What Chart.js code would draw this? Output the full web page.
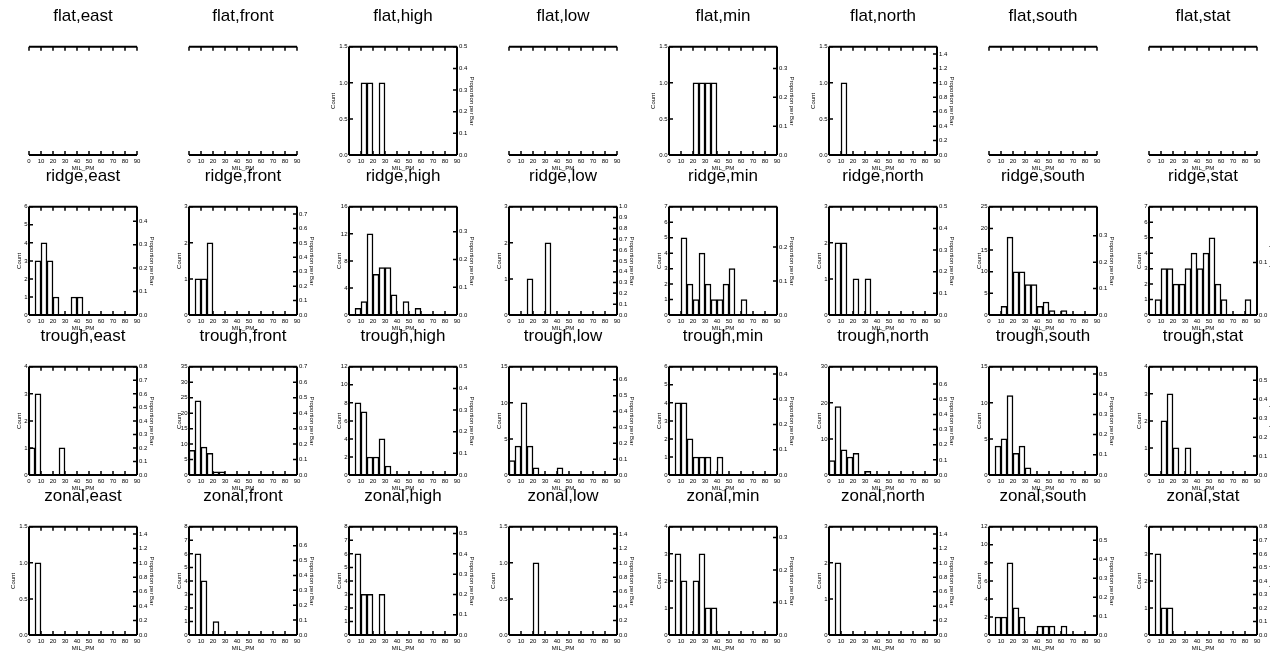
<!DOCTYPE html>
<html>
<head>
<meta charset="utf-8">
<script src="https://cdn.jsdelivr.net/npm/chart.js@4.4.1/dist/chart.umd.min.js"></script>
<style>
body { margin: 0; background: #fff; }
#grid { position: relative; width: 1270px; height: 655px; overflow: hidden; }
#grid canvas { position: absolute; }
</style>
</head>
<body>
<div id="grid"></div>
<script>
// MIL_PM histogram bins, 5 wide from 0 to 90 (bin centres)
const binCenters = [2.5, 7.5, 12.5, 17.5, 22.5, 27.5, 32.5, 37.5, 42.5, 47.5, 52.5, 57.5, 62.5, 67.5, 72.5, 77.5, 82.5, 87.5];

const rowNames = ['flat', 'ridge', 'trough', 'zonal'];
const colNames = ['east', 'front', 'high', 'low', 'min', 'north', 'south', 'stat'];

// counts per bin, one list per panel (null = no data)
const flatCounts = [
    null,
    null,
    [0, 0, 1, 1, 0, 1, 0, 0, 0, 0, 0, 0, 0, 0, 0, 0, 0, 0],
    null,
    [0, 0, 0, 0, 1, 1, 1, 1, 0, 0, 0, 0, 0, 0, 0, 0, 0, 0],
    [0, 0, 1, 0, 0, 0, 0, 0, 0, 0, 0, 0, 0, 0, 0, 0, 0, 0],
    null,
    null
];
const ridgeCounts = [
    [0, 3, 4, 3, 1, 0, 0, 1, 1, 0, 0, 0, 0, 0, 0, 0, 0, 0],
    [0, 1, 1, 2, 0, 0, 0, 0, 0, 0, 0, 0, 0, 0, 0, 0, 0, 0],
    [0, 1, 2, 12, 6, 7, 7, 3, 0, 2, 0, 1, 0, 0, 0, 0, 0, 0],
    [0, 0, 0, 1, 0, 0, 2, 0, 0, 0, 0, 0, 0, 0, 0, 0, 0, 0],
    [0, 0, 5, 2, 1, 4, 2, 1, 1, 2, 3, 0, 1, 0, 0, 0, 0, 0],
    [0, 2, 2, 0, 1, 0, 1, 0, 0, 0, 0, 0, 0, 0, 0, 0, 0, 0],
    [0, 0, 2, 18, 10, 10, 7, 7, 2, 3, 1, 0, 1, 0, 0, 0, 0, 0],
    [0, 1, 3, 3, 2, 2, 3, 4, 3, 4, 5, 2, 1, 0, 0, 0, 1, 0]
];
const troughCounts = [
    [1, 3, 0, 0, 0, 1, 0, 0, 0, 0, 0, 0, 0, 0, 0, 0, 0, 0],
    [8, 24, 9, 7, 1, 1, 0, 0, 0, 0, 0, 0, 0, 0, 0, 0, 0, 0],
    [0, 8, 7, 2, 2, 4, 1, 0, 0, 0, 0, 0, 0, 0, 0, 0, 0, 0],
    [2, 4, 10, 4, 1, 0, 0, 0, 1, 0, 0, 0, 0, 0, 0, 0, 0, 0],
    [0, 4, 4, 2, 1, 1, 1, 0, 1, 0, 0, 0, 0, 0, 0, 0, 0, 0],
    [4, 19, 7, 5, 6, 0, 1, 0, 0, 0, 0, 0, 0, 0, 0, 0, 0, 0],
    [0, 4, 5, 11, 3, 4, 1, 0, 0, 0, 0, 0, 0, 0, 0, 0, 0, 0],
    [0, 0, 2, 3, 1, 0, 1, 0, 0, 0, 0, 0, 0, 0, 0, 0, 0, 0]
];
const zonalCounts = [
    [0, 1, 0, 0, 0, 0, 0, 0, 0, 0, 0, 0, 0, 0, 0, 0, 0, 0],
    [0, 6, 4, 0, 1, 0, 0, 0, 0, 0, 0, 0, 0, 0, 0, 0, 0, 0],
    [0, 6, 3, 3, 0, 3, 0, 0, 0, 0, 0, 0, 0, 0, 0, 0, 0, 0],
    [0, 0, 0, 0, 1, 0, 0, 0, 0, 0, 0, 0, 0, 0, 0, 0, 0, 0],
    [0, 3, 2, 0, 2, 3, 1, 1, 0, 0, 0, 0, 0, 0, 0, 0, 0, 0],
    [0, 2, 0, 0, 0, 0, 0, 0, 0, 0, 0, 0, 0, 0, 0, 0, 0, 0],
    [0, 2, 2, 8, 3, 2, 0, 0, 1, 1, 1, 0, 1, 0, 0, 0, 0, 0],
    [0, 3, 1, 1, 0, 0, 0, 0, 0, 0, 0, 0, 0, 0, 0, 0, 0, 0]
];

// Count axis top and tick step per panel
const flatMax = [null, null, 1.5, null, 1.5, 1.5, null, null];
const flatStep = [null, null, 0.5, null, 0.5, 0.5, null, null];
const ridgeMax = [6, 3, 16, 3, 7, 3, 25, 7];
const ridgeStep = [1, 1, 4, 1, 1, 1, 5, 1];
const troughMax = [4, 35, 12, 15, 6, 30, 15, 4];
const troughStep = [1, 5, 2, 5, 1, 10, 5, 1];
const zonalMax = [1.5, 8, 8, 1.5, 4, 3, 12, 4];
const zonalStep = [0.5, 1, 1, 0.5, 1, 1, 2, 1];

const rowCounts = [flatCounts, ridgeCounts, troughCounts, zonalCounts];
const rowMax = [flatMax, ridgeMax, troughMax, zonalMax];
const rowStep = [flatStep, ridgeStep, troughStep, zonalStep];

Chart.defaults.font.family = "'Liberation Sans', Arial, sans-serif";
Chart.defaults.color = '#000';

const TICK = 4;

// box around the plot with ticks pointing inward
const framePlugin = {
    id: 'frame',
    afterDatasetsDraw(chart, args, opts) {
        const { ctx, chartArea: a, scales } = chart;
        ctx.save();
        ctx.strokeStyle = '#000';
        ctx.lineWidth = 2;
        ctx.beginPath();
        ctx.moveTo(a.left, a.top); ctx.lineTo(a.right, a.top);
        ctx.moveTo(a.left, a.bottom); ctx.lineTo(a.right, a.bottom);
        if (!opts.empty) {
            ctx.moveTo(a.left, a.top); ctx.lineTo(a.left, a.bottom);
            ctx.moveTo(a.right, a.top); ctx.lineTo(a.right, a.bottom);
        }
        ctx.stroke();

        ctx.lineWidth = 1.5;
        ctx.beginPath();
        scales.x.ticks.forEach(t => {
            const px = scales.x.getPixelForValue(t.value);
            ctx.moveTo(px, a.top); ctx.lineTo(px, a.top + TICK);
            ctx.moveTo(px, a.bottom); ctx.lineTo(px, a.bottom - TICK);
        });
        if (!opts.empty) {
            scales.y.ticks.forEach(t => {
                const py = scales.y.getPixelForValue(t.value);
                ctx.moveTo(a.left, py); ctx.lineTo(a.left + TICK, py);
            });
            scales.y2.ticks.forEach(t => {
                const py = scales.y2.getPixelForValue(t.value);
                ctx.moveTo(a.right, py); ctx.lineTo(a.right - TICK, py);
            });
        }
        ctx.stroke();
        ctx.restore();
    }
};

const keepSteps = (step) => (axis) => {
    axis.ticks = axis.ticks.filter(t => Math.abs(t.value / step - Math.round(t.value / step)) < 1e-6);
};

function makePanel(canvas, title, counts, yMax, yStep) {
    const empty = !counts;
    const total = empty ? 1 : counts.reduce((s, v) => s + v, 0);
    const top = empty ? 1 : yMax;
    const step = empty ? 1 : yStep;
    const propMax = top / total;
    const propStep = propMax > 1.2 ? 0.2 : 0.1;
    const fmtCount = (v) => step < 1 ? v.toFixed(1) : String(v);
    const countPad = fmtCount(top).length >= 3 ? 9.4 : 15.4;
    const small = { size: 6 };
    const noGrid = { display: false, drawTicks: false, offset: false };

    new Chart(canvas, {
        type: 'bar',
        data: {
            datasets: empty ? [] : [{
                data: counts.map((v, i) => ({ x: binCenters[i], y: v })),
                backgroundColor: '#fff',
                borderColor: '#000',
                borderWidth: 1.5,
                barPercentage: 1,
                categoryPercentage: 1,
                yAxisID: 'y'
            }]
        },
        options: {
            responsive: false,
            animation: false,
            events: [],
            plugins: {
                legend: { display: false },
                tooltip: { enabled: false },
                title: {
                    display: true, text: title, fullSize: false, color: '#000',
                    font: { size: 17, weight: 'normal' },
                    padding: { top: 6, bottom: 20.4 }
                },
                frame: { empty }
            },
            scales: {
                x: {
                    type: 'linear', min: 0, max: 90, offset: false,
                    grid: noGrid, border: { display: false },
                    ticks: { stepSize: 10, padding: 3, font: small, maxRotation: 0, autoSkip: false },
                    title: { display: true, text: 'MIL_PM', font: small, padding: { top: 0, bottom: 2.9 } },
                    afterFit: (s) => { s.height = 20; }
                },
                y: {
                    position: 'left', min: 0, max: top,
                    grid: noGrid, border: { display: false },
                    ticks: { display: !empty, stepSize: step, padding: 1.5, font: small, autoSkip: false, callback: fmtCount },
                    title: { display: !empty, text: 'Count', font: small, padding: { top: countPad } },
                    afterBuildTicks: keepSteps(step),
                    afterFit: (s) => { s.width = 29; }
                },
                y2: {
                    position: 'right', min: 0, max: propMax,
                    grid: noGrid, border: { display: false },
                    ticks: { display: !empty, stepSize: propStep, padding: 2, font: small, autoSkip: false, callback: (v) => v.toFixed(1) },
                    title: { display: !empty, text: 'Proportion per Bar', font: small, padding: { top: 4.4 } },
                    afterBuildTicks: keepSteps(propStep),
                    afterFit: (s) => { s.width = 23; }
                }
            }
        },
        plugins: [framePlugin]
    });
}

const grid = document.getElementById('grid');
rowNames.forEach((rowName, r) => {
    colNames.forEach((colName, c) => {
        const canvas = document.createElement('canvas');
        canvas.width = 160;
        canvas.height = 175;
        canvas.style.left = (c * 160) + 'px';
        canvas.style.top = (r * 160) + 'px';
        grid.appendChild(canvas);
        makePanel(canvas, `${rowName},${colName}`, rowCounts[r][c], rowMax[r][c], rowStep[r][c]);
    });
});
</script>
</body>
</html>
